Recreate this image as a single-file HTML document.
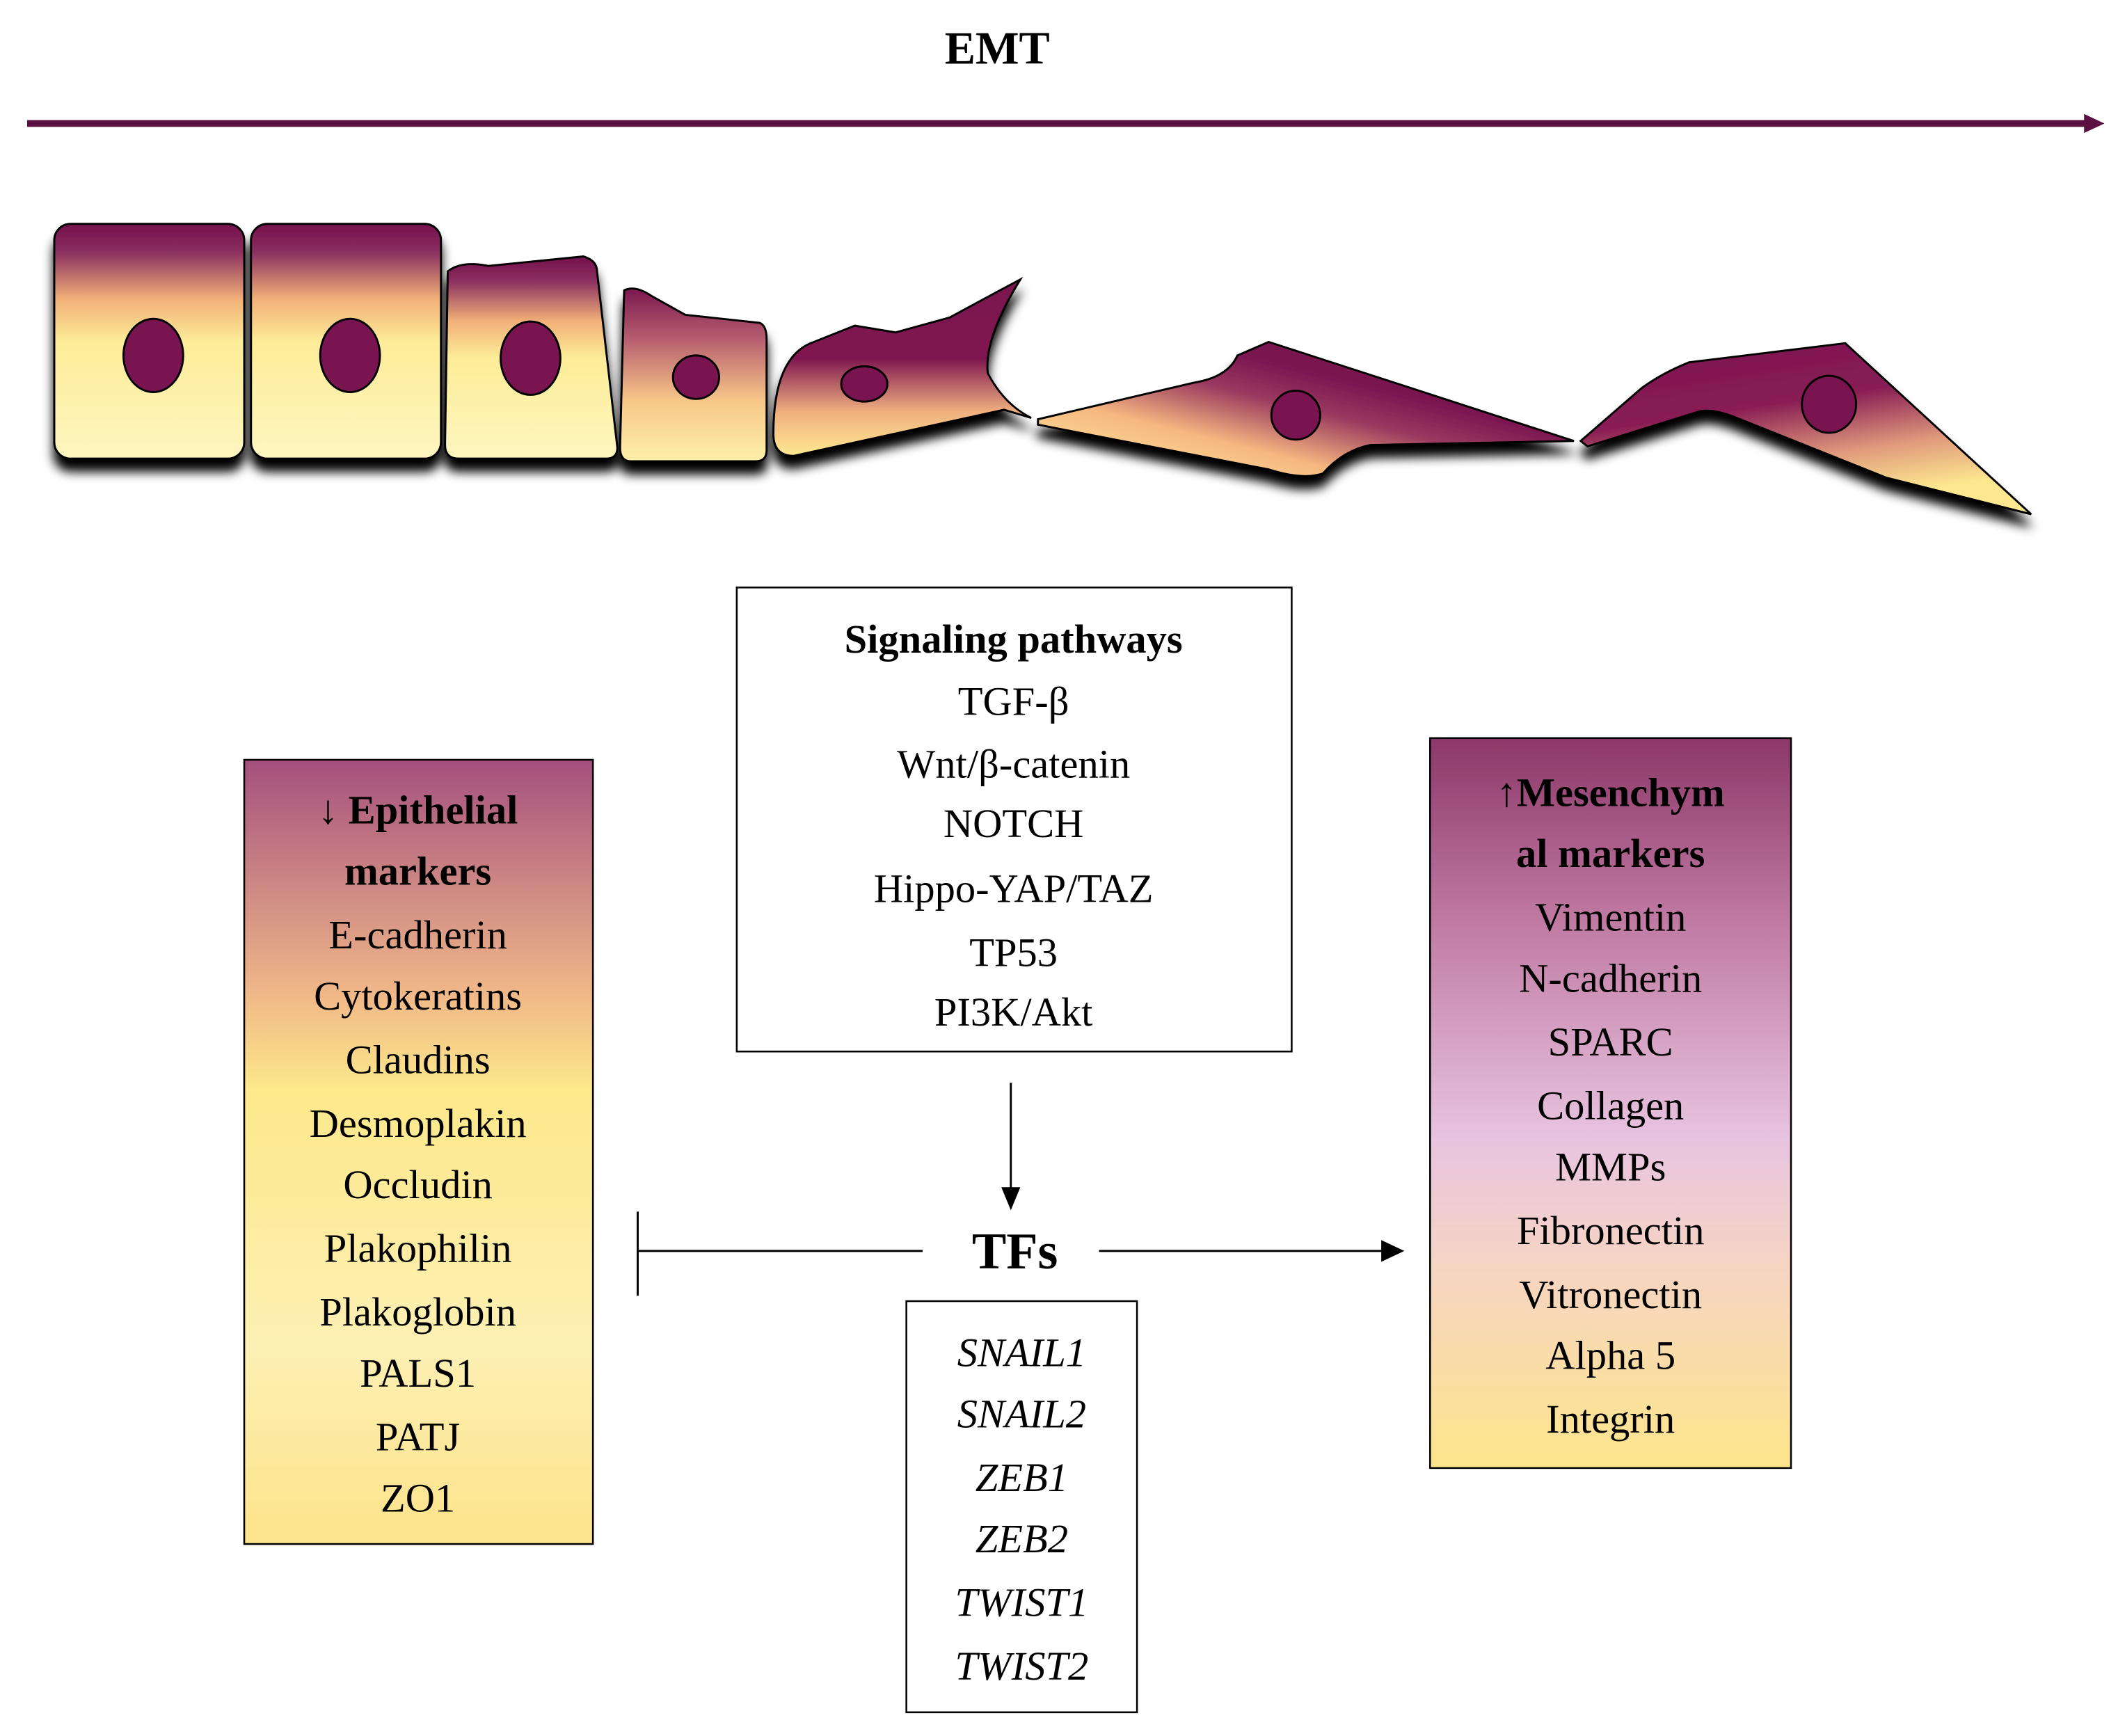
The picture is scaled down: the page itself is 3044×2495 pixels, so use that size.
<!DOCTYPE html>
<html><head><meta charset="utf-8"><style>html,body{margin:0;padding:0;background:#fff}svg{display:block}</style></head>
<body>
<svg width="3044" height="2495" viewBox="0 0 1561 1279.5" preserveAspectRatio="none" xmlns="http://www.w3.org/2000/svg" font-family="'Liberation Serif', serif">
<defs>
<linearGradient id="cg" x1="0" y1="0" x2="0" y2="1">
<stop offset="0" stop-color="#74104c"/><stop offset="0.12" stop-color="#8a3060"/><stop offset="0.32" stop-color="#f2b078"/><stop offset="0.5" stop-color="#fdec98"/><stop offset="1" stop-color="#fdf6c0"/></linearGradient>
<linearGradient id="cg2" x1="0" y1="0" x2="0" y2="1">
<stop offset="0" stop-color="#7a1850"/><stop offset="0.3" stop-color="#b86070"/><stop offset="0.65" stop-color="#f8c888"/><stop offset="1" stop-color="#fdf0a8"/></linearGradient>
<linearGradient id="cg5" x1="0" y1="0" x2="0" y2="1">
<stop offset="0" stop-color="#7a1450"/><stop offset="0.45" stop-color="#801850"/><stop offset="0.75" stop-color="#f0b080"/><stop offset="1" stop-color="#fde890"/></linearGradient>
<linearGradient id="cg6" x1="0" y1="1" x2="1" y2="0">
<stop offset="0" stop-color="#fdf0a0"/><stop offset="0.3" stop-color="#f6b880"/><stop offset="0.5" stop-color="#9a3a60"/><stop offset="0.65" stop-color="#7a1450"/></linearGradient>
<linearGradient id="cg7" x1="0" y1="0" x2="0.4" y2="1">
<stop offset="0" stop-color="#7a1450"/><stop offset="0.45" stop-color="#881c54"/><stop offset="0.75" stop-color="#e09a7c"/><stop offset="1" stop-color="#fde890"/></linearGradient>
<linearGradient id="lg" x1="0" y1="0" x2="0" y2="1">
<stop offset="0" stop-color="#a4507e"/><stop offset="0.3" stop-color="#f0b888"/><stop offset="0.42" stop-color="#fde88a"/><stop offset="0.75" stop-color="#fdf0b4"/><stop offset="1" stop-color="#fde38a"/></linearGradient>
<linearGradient id="rg" x1="0" y1="0" x2="0" y2="1">
<stop offset="0" stop-color="#8c3868"/><stop offset="0.25" stop-color="#c07aa2"/><stop offset="0.55" stop-color="#e8c4e0"/><stop offset="0.72" stop-color="#f6d4c4"/><stop offset="1" stop-color="#fde58a"/></linearGradient>
<filter id="sh" x="-10%" y="-10%" width="120%" height="140%"><feDropShadow dx="0" dy="9" stdDeviation="4" flood-color="#000" flood-opacity="1"/></filter>
</defs>
<text x="735" y="47" font-size="34" font-weight="bold" text-anchor="middle">EMT</text>
<line x1="20" y1="91" x2="1540" y2="91" stroke="#5a1040" stroke-width="5"/>
<path d="M1536 84 L1551 91 L1536 98 Z" fill="#5a1040"/>
<g filter="url(#sh)" stroke="#000" stroke-width="1.5">
<rect x="40" y="165" width="140" height="173" rx="12" fill="url(#cg)"/>
<rect x="185" y="165" width="140" height="173" rx="12" fill="url(#cg)"/>
<path d="M330 200 Q340 192 360 196 L430 189 Q440 192 440 200 L455 330 Q455 338 447 338 L338 338 Q328 338 328 328 Z" fill="url(#cg)"/>
<path d="M460 214 Q468 210 480 218 L505 232 L560 238 Q565 240 565 250 L565 332 Q565 340 557 340 L465 340 Q457 340 457 330 Z" fill="url(#cg2)"/>
<path d="M570 320 Q570 262 600 252 L630 240 L660 245 L700 234 Q735 215 752 206 Q725 250 728 275 Q740 298 760 308 L740 302 L585 336 Q570 336 570 320 Z" fill="url(#cg5)"/>
<path d="M765 309 L880 282 Q905 278 912 262 L935 252 L1160 325 L1010 328 Q990 332 975 349 Q960 354 935 346 L765 313 Z" fill="url(#cg6)"/>
<path d="M1165 325 L1210 286 Q1225 275 1245 267 L1360 253 L1497 379 L1390 352 L1280 308 Q1260 300 1250 304 L1170 329 Z" fill="url(#cg7)"/>
</g>
<g fill="#7a1450" stroke="#000" stroke-width="1.5">
<ellipse cx="113" cy="262" rx="22" ry="27"/><ellipse cx="258" cy="262" rx="22" ry="27"/><ellipse cx="391" cy="264" rx="22" ry="27"/><ellipse cx="513" cy="278" rx="17" ry="16"/><ellipse cx="637" cy="283" rx="17" ry="13"/><ellipse cx="955" cy="306" rx="18" ry="18"/><ellipse cx="1348" cy="298" rx="20" ry="21"/>
</g>
<rect x="543" y="433" width="409" height="342" fill="#fff" stroke="#000" stroke-width="1.3"/>
<g font-size="30" text-anchor="middle">
<text x="747" y="481" font-weight="bold">Signaling pathways</text>
<text x="747" y="527">TGF-β</text><text x="747" y="573">Wnt/β-catenin</text><text x="747" y="617">NOTCH</text><text x="747" y="665">Hippo-YAP/TAZ</text><text x="747" y="712">TP53</text><text x="747" y="756">PI3K/Akt</text>
</g>
<rect x="180" y="560" width="257" height="578" fill="url(#lg)" stroke="#000" stroke-width="1.3"/>
<g font-size="30" text-anchor="middle">
<text x="308" y="607" font-weight="bold">↓ Epithelial</text><text x="308" y="652" font-weight="bold">markers</text>
<text x="308" y="699">E-cadherin</text><text x="308" y="744">Cytokeratins</text><text x="308" y="791">Claudins</text><text x="308" y="838">Desmoplakin</text><text x="308" y="883">Occludin</text><text x="308" y="930">Plakophilin</text><text x="308" y="977">Plakoglobin</text><text x="308" y="1022">PALS1</text><text x="308" y="1069">PATJ</text><text x="308" y="1114">ZO1</text>
</g>
<rect x="1054" y="544" width="266" height="538" fill="url(#rg)" stroke="#000" stroke-width="1.3"/>
<g font-size="30" text-anchor="middle">
<text x="1187" y="594" font-weight="bold">↑Mesenchym</text><text x="1187" y="639" font-weight="bold">al markers</text>
<text x="1187" y="686">Vimentin</text><text x="1187" y="731">N-cadherin</text><text x="1187" y="778">SPARC</text><text x="1187" y="825">Collagen</text><text x="1187" y="870">MMPs</text><text x="1187" y="917">Fibronectin</text><text x="1187" y="964">Vitronectin</text><text x="1187" y="1009">Alpha 5</text><text x="1187" y="1056">Integrin</text>
</g>
<line x1="745" y1="798" x2="745" y2="878" stroke="#000" stroke-width="1.5"/>
<path d="M738 875 L745 892 L752 875 Z" fill="#000"/>
<text x="748" y="935" font-size="38" font-weight="bold" text-anchor="middle">TFs</text>
<line x1="470" y1="922" x2="680" y2="922" stroke="#000" stroke-width="1.5"/>
<line x1="470" y1="893" x2="470" y2="955" stroke="#000" stroke-width="1.5"/>
<line x1="810" y1="922" x2="1020" y2="922" stroke="#000" stroke-width="1.5"/>
<path d="M1018 914 L1035 922 L1018 930 Z" fill="#000"/>
<rect x="668" y="959" width="170" height="303" fill="#fff" stroke="#000" stroke-width="1.3"/>
<g font-size="30" text-anchor="middle" font-style="italic">
<text x="753" y="1007">SNAIL1</text><text x="753" y="1052">SNAIL2</text><text x="753" y="1099">ZEB1</text><text x="753" y="1144">ZEB2</text><text x="753" y="1191">TWIST1</text><text x="753" y="1238">TWIST2</text>
</g>
</svg>
</body></html>
